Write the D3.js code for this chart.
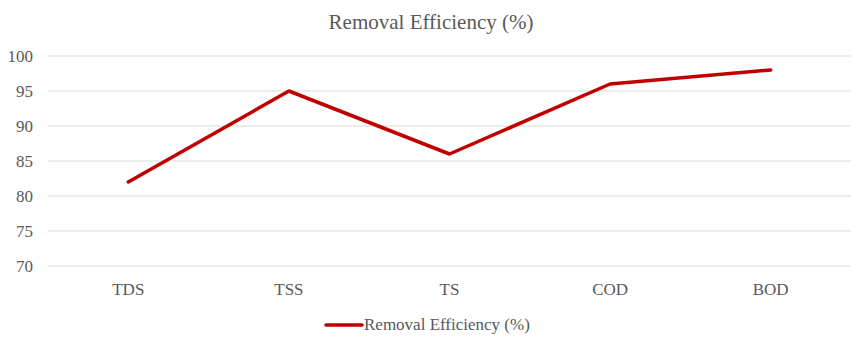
<!DOCTYPE html>
<html><head><meta charset="utf-8">
<script src="https://cdn.jsdelivr.net/npm/d3@7"></script>
<style>body{margin:0;background:#fff}svg{display:block}</style>
</head><body><svg id="c" width="861" height="341"></svg>
<script>
const categories = ["TDS","TSS","TS","COD","BOD"];
const values = [82,95,86,96,98];
const yTicks = [70,75,80,85,90,95,100];
const seriesName = "Removal Efficiency (%)";
const title = "Removal Efficiency (%)";

const FONT = "'Times New Roman', 'Liberation Serif', 'DejaVu Serif', serif";
const svg = d3.select("#c");
const mLeft = 48, mRight = 851, mTop = 56, mBottom = 266;
const x = d3.scaleBand().domain(categories).range([mLeft,mRight]);
const y = d3.scaleLinear().domain([70,100]).range([mBottom,mTop]);

svg.append("text").attr("x",431).attr("y",29).attr("text-anchor","middle")
  .attr("font-family",FONT).attr("font-size",21).attr("fill","#595959").text(title);

svg.append("g").selectAll("line").data(yTicks).join("line")
  .attr("x1",mLeft).attr("x2",mRight).attr("y1",d=>y(d)).attr("y2",d=>y(d))
  .attr("stroke","#d9d9d9").attr("stroke-width",1);

svg.append("g").selectAll("text").data(yTicks).join("text")
  .attr("x",33).attr("y",d=>y(d)+6).attr("text-anchor","end")
  .attr("font-family",FONT).attr("font-size",17).attr("fill","#595959").text(d=>d);

svg.append("g").selectAll("text").data(categories).join("text")
  .attr("x",d=>x(d)+x.bandwidth()/2).attr("y",295).attr("text-anchor","middle")
  .attr("font-family",FONT).attr("font-size",17).attr("fill","#595959").text(d=>d);

const line = d3.line().x((d,i)=>x(categories[i])+x.bandwidth()/2).y(d=>y(d));
svg.append("path").datum(values).attr("d",line).attr("fill","none")
  .attr("stroke","#c00000").attr("stroke-width",3.5).attr("stroke-linecap","round").attr("stroke-linejoin","round");

svg.append("line").attr("x1",326).attr("x2",362).attr("y1",325).attr("y2",325)
  .attr("stroke","#c00000").attr("stroke-width",3.5).attr("stroke-linecap","round");
svg.append("text").attr("x",364).attr("y",330)
  .attr("font-family",FONT).attr("font-size",17).attr("fill","#595959").text(seriesName);
</script></body></html>
